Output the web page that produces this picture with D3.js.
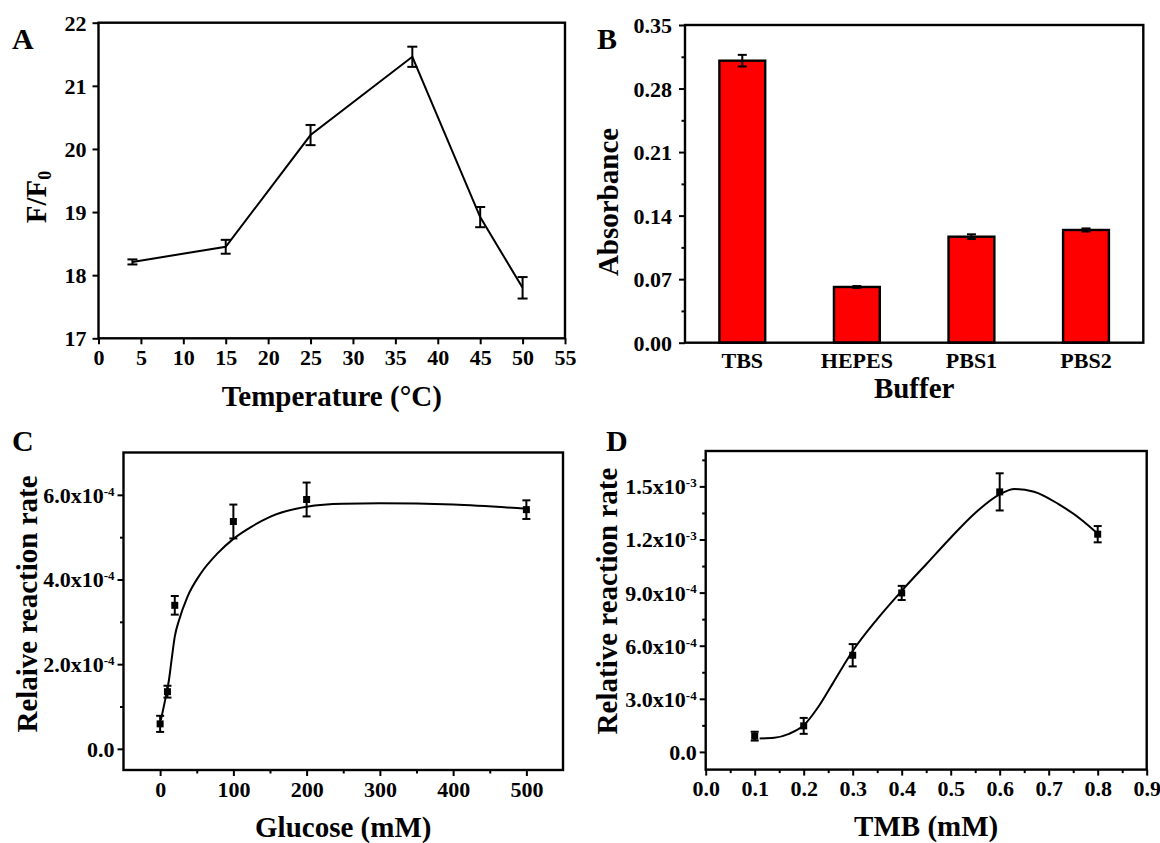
<!DOCTYPE html>
<html>
<head>
<meta charset="utf-8">
<script src="https://cdn.jsdelivr.net/npm/d3@7"></script>
<style>
  html, body { margin: 0; padding: 0; background: #fff; }
  svg text { font-family: "Liberation Serif", "Times New Roman", serif; font-weight: bold; fill: #000; }
  .tick text { font-size: 22px; }
  .ttl { font-size: 29px; }
  .panel { font-size: 30px; }
</style>
</head>
<body>
<script>
// ---- Panel A: temperature dependence ----
const tempC = [4, 15, 25, 37, 45, 50];
const ratioF = [18.21, 18.45, 20.22, 21.46, 18.92, 17.80];
const ratioErr = [0.04, 0.11, 0.16, 0.16, 0.16, 0.17];
const tempTicks = [0, 5, 10, 15, 20, 25, 30, 35, 40, 45, 50, 55];
const ratioTicks = [17, 18, 19, 20, 21, 22];

// ---- Panel B: buffer comparison ----
const buffers = ["TBS", "HEPES", "PBS1", "PBS2"];
const absorb = [0.3107, 0.0614, 0.1168, 0.1242];
const absorbErr = [0.0064, 0.001, 0.0026, 0.0017];
const absTicks = [0, 0.07, 0.14, 0.21, 0.28, 0.35];
const absMinor = [0.035, 0.105, 0.175, 0.245, 0.315];

// ---- Panel C: glucose dependence (values in 1e-4 units) ----
const glucose = [0, 10, 20, 100, 200, 500];
const rateGlu = [0.59, 1.35, 3.39, 5.37, 5.89, 5.65];
const rateGluErr = [0.19, 0.14, 0.22, 0.40, 0.40, 0.22];
const gluFitX = [1, 8, 12, 16, 20, 26, 37, 55, 78, 100, 125, 150, 200, 250, 300, 400, 500];
const gluFitY = [0.68, 1.25, 1.62, 2.15, 2.65, 3.05, 3.58, 4.13, 4.61, 4.96, 5.25, 5.48, 5.72, 5.79, 5.80, 5.77, 5.67];
const gluTicks = [0, 100, 200, 300, 400, 500];
const gluMinor = [50, 150, 250, 350, 450];
const rateGluTicks = [0, 2, 4, 6];
const rateGluMinor = [1, 3, 5];

// ---- Panel D: TMB dependence (values in 1e-4 units) ----
const tmb = [0.1, 0.2, 0.3, 0.4, 0.6, 0.8];
const rateTmb = [0.89, 1.47, 5.46, 8.98, 14.69, 12.30];
const rateTmbErr = [0.25, 0.45, 0.63, 0.40, 1.05, 0.46];
const tmbFitX = [0.11, 0.14, 0.17, 0.2, 0.23, 0.26, 0.3, 0.35, 0.4, 0.45, 0.5, 0.55, 0.6, 0.63, 0.67, 0.72, 0.77, 0.795];
const tmbFitY = [0.76, 0.80, 1.02, 1.5, 2.55, 3.9, 5.7, 7.5, 9.1, 10.6, 12.1, 13.5, 14.55, 14.85, 14.7, 14.0, 13.05, 12.45];
const tmbTicks = [0, 0.1, 0.2, 0.3, 0.4, 0.5, 0.6, 0.7, 0.8, 0.9];
const tmbMinor = [0.05, 0.15, 0.25, 0.35, 0.45, 0.55, 0.65, 0.75, 0.85];
const rateTmbTicks = [0, 3, 6, 9, 12, 15];
const rateTmbMinor = [1.5, 4.5, 7.5, 10.5, 13.5, 16.5];

const svg = d3.select("body").append("svg")
  .attr("width", 1160).attr("height", 843)
  .style("display", "block");
svg.append("rect").attr("width", 1160).attr("height", 843).attr("fill", "#fff");

// plot frames
const boxA = { x0: 98.5, x1: 565, y0: 22.7, y1: 338.3 };
const boxB = { x0: 685, x1: 1143.3, y0: 25, y1: 342.7 };
const boxC = { x0: 123.5, x1: 563, y0: 452.5, y1: 770 };
const boxD = { x0: 705.7, x1: 1146.7, y0: 451, y1: 769.6 };

function frame(b) {
  svg.append("rect")
    .attr("x", b.x0).attr("y", b.y0)
    .attr("width", b.x1 - b.x0).attr("height", b.y1 - b.y0)
    .attr("fill", "none").attr("stroke", "#000").attr("stroke-width", 2.4);
}

function styleAxis(g) {
  g.select(".domain").remove();
  g.selectAll("line").attr("stroke", "#000").attr("stroke-width", 2);
}

function leftAxis(b, y, majors, minors, fmt, pad) {
  const g = svg.append("g").attr("transform", `translate(${b.x0},0)`);
  g.call(d3.axisLeft(y).tickValues(majors).tickSize(6).tickPadding(pad).tickFormat(fmt));
  styleAxis(g);
  g.selectAll(".tick text").attr("dy", "0.34em");
  if (minors) {
    const m = svg.append("g").attr("transform", `translate(${b.x0},0)`);
    m.call(d3.axisLeft(y).tickValues(minors).tickSize(3.5).tickFormat(""));
    styleAxis(m);
  }
  return g;
}

function bottomAxis(b, x, majors, minors, fmt, size, pad) {
  const g = svg.append("g").attr("transform", `translate(0,${b.y1})`);
  g.call(d3.axisBottom(x).tickValues(majors).tickSize(size).tickPadding(pad).tickFormat(fmt));
  styleAxis(g);
  if (minors) {
    const m = svg.append("g").attr("transform", `translate(0,${b.y1})`);
    m.call(d3.axisBottom(x).tickValues(minors).tickSize(3.5).tickFormat(""));
    styleAxis(m);
  }
  return g;
}

// tick labels like 6.0x10^-4 drawn with a raised exponent
function sciLabels(g, split) {
  g.selectAll(".tick text").each(function (d) {
    const t = d3.select(this);
    t.text(null);
    if (d === 0) { t.text("0.0"); return; }
    const [mant, expo] = split(d);
    t.append("tspan").text(mant + "x10");
    t.append("tspan").attr("dy", "-0.55em").attr("font-size", "13px").text(expo);
  });
}

function errorBars(xs, ys, es, x, y, cap) {
  const g = svg.append("g").attr("stroke", "#000").attr("stroke-width", 2);
  xs.forEach((xv, i) => {
    const cx = x(xv), lo = y(ys[i] - es[i]), hi = y(ys[i] + es[i]);
    g.append("line").attr("x1", cx).attr("x2", cx).attr("y1", lo).attr("y2", hi);
    g.append("line").attr("x1", cx - cap / 2).attr("x2", cx + cap / 2).attr("y1", lo).attr("y2", lo);
    g.append("line").attr("x1", cx - cap / 2).attr("x2", cx + cap / 2).attr("y1", hi).attr("y2", hi);
  });
}

function squares(xs, ys, x, y, s) {
  svg.append("g").selectAll("rect").data(xs).join("rect")
    .attr("x", (d) => x(d) - s / 2)
    .attr("y", (d, i) => y(ys[i]) - s / 2)
    .attr("width", s).attr("height", s).attr("fill", "#000");
}

function title(text, x, y, rotate) {
  const t = svg.append("text").attr("class", "ttl").attr("text-anchor", "middle");
  if (rotate) t.attr("transform", `translate(${x},${y}) rotate(-90)`);
  else t.attr("x", x).attr("y", y);
  t.text(text);
  return t;
}

function panelLabel(text, x, y) {
  svg.append("text").attr("class", "panel").attr("x", x).attr("y", y).text(text);
}

// ================= Panel A =================
{
  const x = d3.scaleLinear().domain([0, 55]).range([boxA.x0, boxA.x1]);
  const y = d3.scaleLinear().domain([17, 22]).range([boxA.y1, boxA.y0]);
  frame(boxA);
  leftAxis(boxA, y, ratioTicks, null, d3.format("d"), 6);
  bottomAxis(boxA, x, tempTicks, null, d3.format("d"), 6, 5);
  svg.append("path")
    .attr("d", d3.line().x((d) => x(d)).y((d, i) => y(ratioF[i]))(tempC))
    .attr("fill", "none").attr("stroke", "#000").attr("stroke-width", 2);
  errorBars(tempC, ratioF, ratioErr, x, y, 10);
  title("Temperature (°C)", (boxA.x0 + boxA.x1) / 2, 406, false);
  const yt = svg.append("text").attr("class", "ttl").attr("text-anchor", "middle")
    .attr("transform", "translate(46,197) rotate(-90)");
  yt.append("tspan").text("F/F");
  yt.append("tspan").attr("dy", "0.3em").attr("font-size", "18px").text("0");
  panelLabel("A", 12, 49);
}

// ================= Panel B =================
{
  const x = d3.scaleBand().domain(buffers).range([boxB.x0, boxB.x1]).paddingInner(0.6).paddingOuter(0.3);
  const y = d3.scaleLinear().domain([0, 0.35]).range([boxB.y1, boxB.y0]);
  svg.append("g").selectAll("rect").data(buffers).join("rect")
    .attr("x", (d) => x(d))
    .attr("y", (d, i) => y(absorb[i]))
    .attr("width", x.bandwidth())
    .attr("height", (d, i) => y(0) - y(absorb[i]))
    .attr("fill", "#ff0000").attr("stroke", "#000").attr("stroke-width", 2.4);
  frame(boxB);
  leftAxis(boxB, y, absTicks, absMinor, d3.format(".2f"), 7);
  bottomAxis(boxB, x, buffers, null, (d) => d, 0, 10);
  const xc = buffers.map((d) => x(d) + x.bandwidth() / 2);
  const xi = d3.scaleOrdinal().domain(buffers).range(xc);
  errorBars(buffers, absorb, absorbErr, xi, y, 9);
  title("Buffer", (boxB.x0 + boxB.x1) / 2, 398, false);
  title("Absorbance", 618, 202, true);
  panelLabel("B", 597, 49);
}

// ================= Panel C =================
{
  const x = d3.scaleLinear().domain([-50, 550]).range([boxC.x0, boxC.x1]);
  const y = d3.scaleLinear().domain([-0.5, 7]).range([boxC.y1, boxC.y0]);
  frame(boxC);
  const ga = leftAxis(boxC, y, rateGluTicks, rateGluMinor, (d) => d, 3);
  sciLabels(ga, (d) => [d3.format(".1f")(d), "-4"]);
  bottomAxis(boxC, x, gluTicks, gluMinor, d3.format("d"), 6, 5);
  svg.append("path")
    .attr("d", d3.line().curve(d3.curveMonotoneX).x((d) => x(d)).y((d, i) => y(gluFitY[i]))(gluFitX))
    .attr("fill", "none").attr("stroke", "#000").attr("stroke-width", 2);
  errorBars(glucose, rateGlu, rateGluErr, x, y, 8);
  squares(glucose, rateGlu, x, y, 7);
  title("Glucose (mM)", (boxC.x0 + boxC.x1) / 2, 837, false);
  title("Relaive reaction rate", 37, 604, true);
  panelLabel("C", 12, 451);
}

// ================= Panel D =================
{
  const x = d3.scaleLinear().domain([0, 0.9]).range([boxD.x0, boxD.x1]);
  const y = d3.scaleLinear().domain([-1, 17]).range([boxD.y1, boxD.y0]);
  frame(boxD);
  const ga = leftAxis(boxD, y, rateTmbTicks, rateTmbMinor, (d) => d, 3);
  sciLabels(ga, (d) => d >= 10 ? [d3.format(".1f")(d / 10), "-3"] : [d3.format(".1f")(d), "-4"]);
  bottomAxis(boxD, x, tmbTicks, tmbMinor, d3.format(".1f"), 6, 5);
  svg.append("path")
    .attr("d", d3.line().curve(d3.curveMonotoneX).x((d) => x(d)).y((d, i) => y(tmbFitY[i]))(tmbFitX))
    .attr("fill", "none").attr("stroke", "#000").attr("stroke-width", 2);
  errorBars(tmb, rateTmb, rateTmbErr, x, y, 8);
  squares(tmb, rateTmb, x, y, 7);
  title("TMB (mM)", (boxD.x0 + boxD.x1) / 2, 836, false);
  title("Relative reaction rate", 617, 601, true);
  panelLabel("D", 606, 451);
}
</script>
</body>
</html>
